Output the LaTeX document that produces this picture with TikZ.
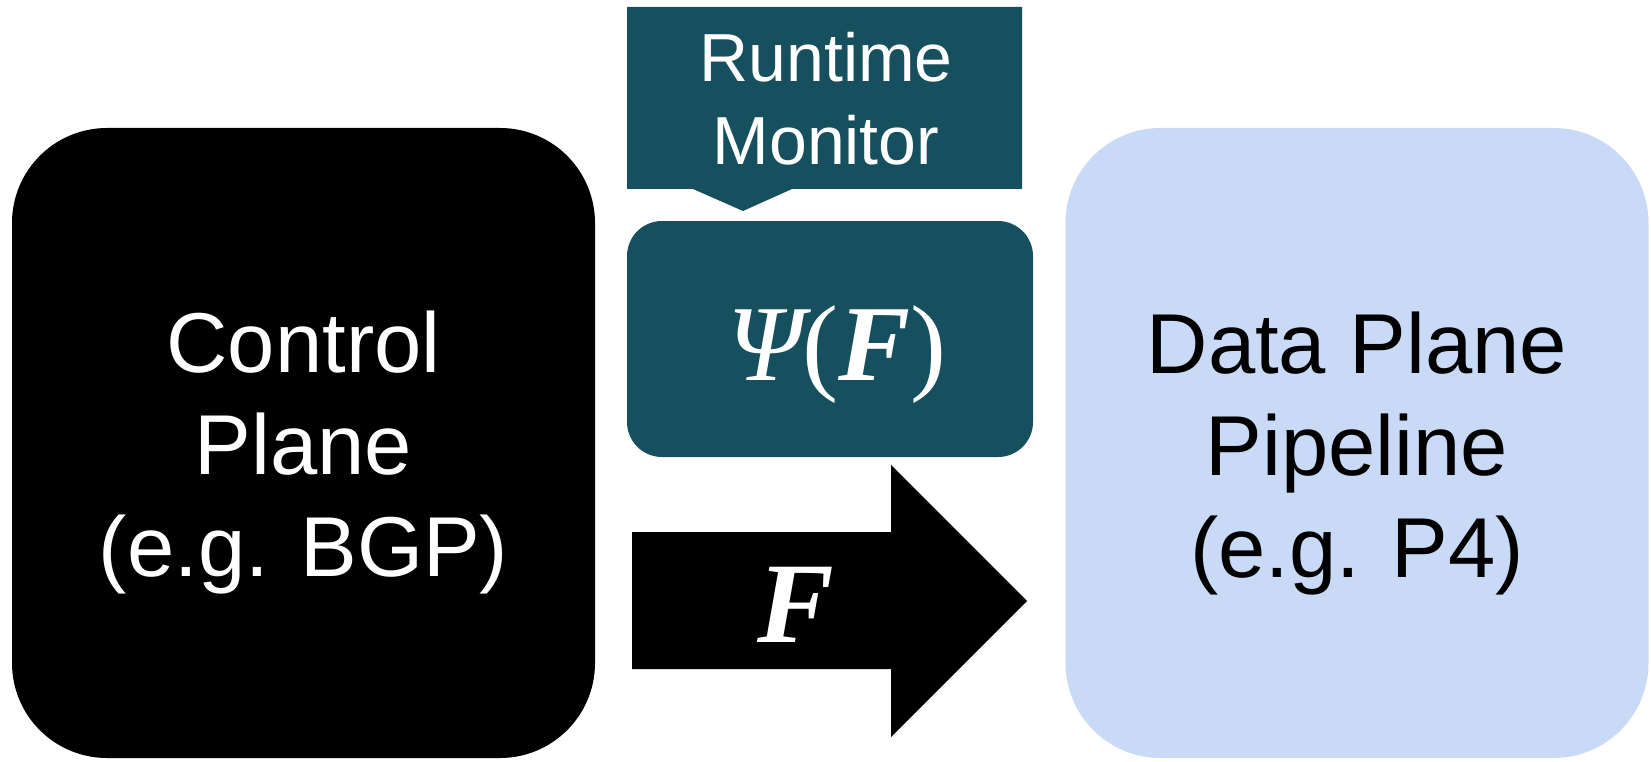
\documentclass[tikz,border=0pt]{standalone}
\usepackage{fontspec}
\setmainfont{Liberation Serif}
\newfontfamily\helv{Liberation Sans}
\usetikzlibrary{positioning}
\definecolor{monteal}{RGB}{22,80,94}
\definecolor{dpblue}{RGB}{201,218,246}
\tikzset{
  bigbox/.style={rectangle, rounded corners=95pt, inner sep=0pt, minimum width=583pt, minimum height=630pt},
  psibox/.style={rectangle, rounded corners=35pt, inner sep=0pt, fill=monteal, minimum width=406pt, minimum height=236pt},
  bigtxt/.style={inner sep=0pt, align=center, font={\helv\fontsize{85pt}{102pt}\selectfont}},
  montxt/.style={inner sep=0pt, align=center, text=white, font={\helv\fontsize{68pt}{83pt}\selectfont}},
}
\begin{document}
\begin{tikzpicture}[x=1pt,y=-1pt]
\useasboundingbox (0,0) rectangle (1651,762);
% control plane
\node[bigbox, fill=black] (cp) at (303.5,443) {};
\node[bigtxt, text=white, anchor=north] (cpt) at (303.5,311) {Control\\Plane\\(e.g. BGP)};
% data plane
\node[bigbox, fill=dpblue] (dp) at (1357,443) {};
\node[bigtxt, text=black, anchor=north] (dpt) at (1357,312) {Data Plane\\Pipeline\\(e.g. P4)};
% runtime monitor callout
\coordinate (m1) at (627,7);
\coordinate (m2) at (1022,7);
\coordinate (m3) at (1022,189);
\coordinate (p1) at (792,189);
\coordinate (tip) at (743,211);
\coordinate (p2) at (693,189);
\coordinate (m4) at (627,189);
\fill[monteal] (m1) -- (m2) -- (m3) -- (p1) -- (tip) -- (p2) -- (m4) -- cycle;
\node[montxt, anchor=north] (mon) at (826,32) {Runtime\\Monitor};
% psi box
\node[psibox] (psi) at (830,339) {};
\node[inner sep=0pt, anchor=base, text=white, font={\fontsize{108pt}{120pt}\selectfont}] (psit) at (837,380) {{\itshape Ψ}({\bfseries\itshape F})};
% F arrow
\coordinate (a1) at (632,532);
\coordinate (a2) at (891,532);
\coordinate (a3) at (891,465);
\coordinate (a4) at (1027,601);
\coordinate (a5) at (891,737);
\coordinate (a6) at (891,669);
\coordinate (a7) at (632,669);
\fill[black] (a1) -- (a2) -- (a3) -- (a4) -- (a5) -- (a6) -- (a7) -- cycle;
\node[inner sep=0pt, anchor=base, text=white, font={\fontsize{115pt}{120pt}\selectfont\bfseries\itshape}] (ft) at (796,642) {F};
\end{tikzpicture}
\end{document}
